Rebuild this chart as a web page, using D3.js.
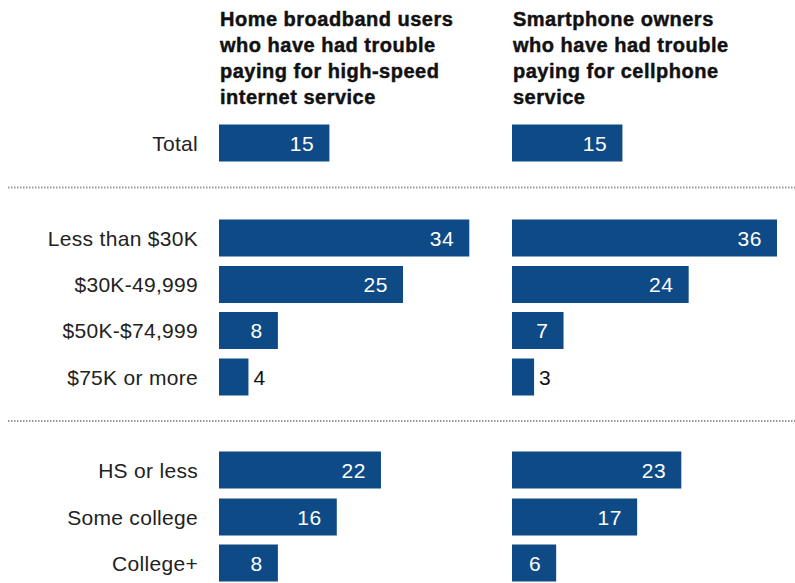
<!DOCTYPE html>
<html>
<head>
<meta charset="utf-8">
<script src="https://cdn.jsdelivr.net/npm/d3@7"></script>
<style>
  html, body { margin: 0; padding: 0; background: #fff; }
  svg { display: block; }
</style>
</head>
<body>
<svg id="chart" width="795" height="583"></svg>
<script>
// Row labels, grouped into blocks separated by dotted rules
const categories = [
  "Total",
  "Less than $30K", "$30K-49,999", "$50K-$74,999", "$75K or more",
  "HS or less", "Some college", "College+"
];

// Share (%) who have had trouble paying
const broadband = [15, 34, 25, 8, 4, 22, 16, 8];
const smartphone = [15, 36, 24, 7, 3, 23, 17, 6];

const broadbandHeader = ["Home broadband users", "who have had trouble", "paying for high-speed", "internet service"];
const smartphoneHeader = ["Smartphone owners", "who have had trouble", "paying for cellphone", "service"];

const svg = d3.select("#chart");
const barColor = "#0e4a86";
const font = "'Liberation Sans', Arial, sans-serif";

// Row centres: evenly spaced within a block, wider gaps between blocks
const rowCenters = [143, 238, 284.5, 330.5, 377, 470, 517, 563];
const y = d3.scaleOrdinal().domain(categories).range(rowCenters);
const barH = 37;

const panelX = [219, 512];
const x = d3.scaleLinear().domain([0, 36]).range([0, 265]);

// Column headers
[broadbandHeader, smartphoneHeader].forEach((lines, i) => {
  const t = svg.append("text")
    .attr("x", panelX[i] + 1)
    .attr("y", 26)
    .attr("font-family", font)
    .attr("font-weight", "bold")
    .attr("font-size", 20)
    .attr("letter-spacing", 0.5)
    .attr("fill", "#111")
    .attr("stroke", "#111")
    .attr("stroke-width", 0.45);
  lines.forEach((ln, j) => {
    t.append("tspan").attr("x", panelX[i] + 1).attr("dy", j === 0 ? 0 : 26).text(ln);
  });
});

// Row labels
svg.append("g").selectAll("text")
  .data(categories)
  .join("text")
  .attr("x", 198)
  .attr("y", d => y(d))
  .attr("dy", "0.36em")
  .attr("text-anchor", "end")
  .attr("font-family", font)
  .attr("font-size", 21)
  .attr("letter-spacing", 0.3)
  .attr("fill", "#222")
  .text(d => d);

// Dotted separators between groups
[187.5, 421].forEach(yy => {
  svg.append("line")
    .attr("x1", 8).attr("x2", 795)
    .attr("y1", yy).attr("y2", yy)
    .attr("stroke", "#9a9a9a")
    .attr("stroke-width", 2)
    .attr("stroke-dasharray", "1.5,1.5");
});

// Bars and value labels for each panel
[broadband, smartphone].forEach((vals, i) => {
  const g = svg.append("g").attr("transform", `translate(${panelX[i]},0)`);
  const rows = categories.map((c, k) => ({ c, v: vals[k] }));

  g.selectAll("rect")
    .data(rows)
    .join("rect")
    .attr("x", 0)
    .attr("y", d => y(d.c) - barH / 2)
    .attr("width", d => x(d.v))
    .attr("height", barH)
    .attr("fill", barColor);

  g.selectAll("text.val")
    .data(rows)
    .join("text")
    .attr("class", "val")
    .attr("x", d => d.v < 5 ? x(d.v) + 5 : x(d.v) - 15)
    .attr("y", d => y(d.c))
    .attr("dy", "0.36em")
    .attr("text-anchor", d => d.v < 5 ? "start" : "end")
    .attr("font-family", font)
    .attr("font-size", 21)
    .attr("letter-spacing", 0.6)
    .attr("fill", d => d.v < 5 ? "#111" : "#fff")
    .text(d => d.v);
});
</script>
</body>
</html>
